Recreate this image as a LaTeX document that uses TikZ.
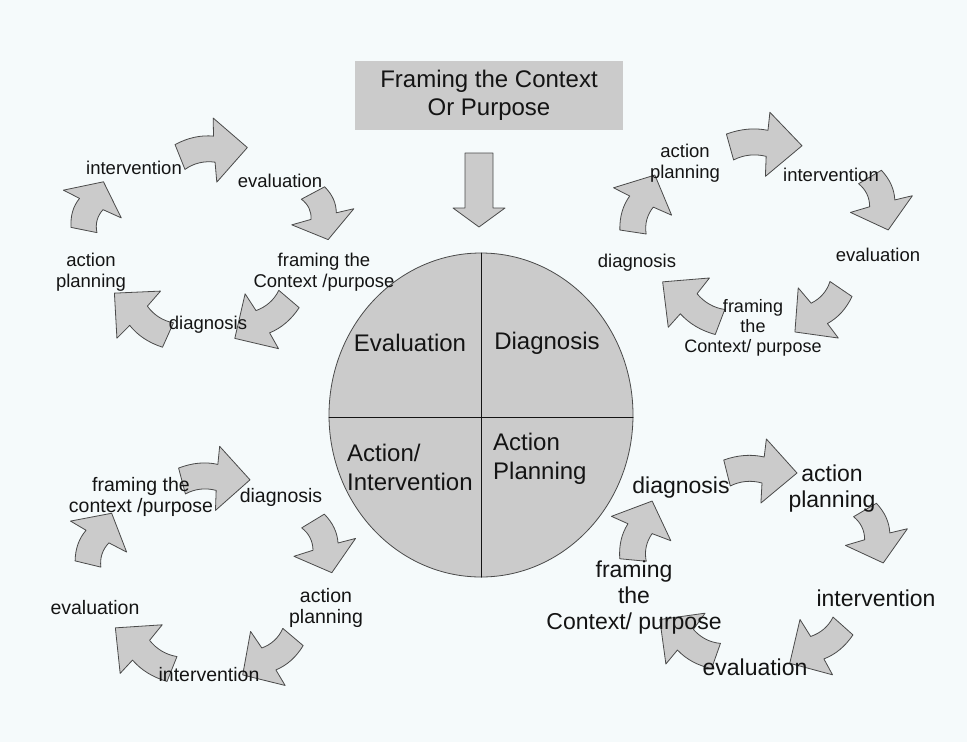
\documentclass[tikz,border=0pt]{standalone}
\usepackage{fontspec}
\setmainfont{Liberation Sans}
\definecolor{paper}{HTML}{F5FAFB}
\definecolor{shade}{HTML}{CBCBCB}
\definecolor{rim}{HTML}{4A4A4A}
\definecolor{ink}{HTML}{141414}
\begin{document}
\begin{tikzpicture}[line cap=round,line join=round,x=1pt,y=-1pt,
  cyc/.style={fill=shade,draw=rim,line width=0.8pt},
  lbl/.style={align=center,inner sep=0pt,text=ink},
  smalllbl/.style={lbl,font=\fontsize{18.5}{21}\selectfont},
  midlbl/.style={lbl,font=\fontsize{19.5}{21}\selectfont},
  biglbl/.style={lbl,font=\fontsize{23}{26}\selectfont},
  quad/.style={lbl,font=\fontsize{24}{29}\selectfont}]
\fill[paper] (0,0) rectangle (967,742);
% top box and arrow down
\node[fill=shade,minimum width=268pt,minimum height=69pt,inner sep=0pt,align=center,
  text=ink,font=\fontsize{24}{28}\selectfont] (purpose) at (489,95) {Framing the Context\\Or Purpose};
\filldraw[cyc] (465,153) -- (493,153) -- (493,208) -- (505,208) -- (479,227) -- (453,208) -- (465,208) -- cycle;
% the circle
\coordinate (hub) at (481,415);
\filldraw[fill=shade,draw=rim,line width=0.8pt] (hub) ellipse [x radius=152, y radius=162];
\draw[ink,line width=1pt] (hub) ++(0,-162) -- ++(0,324);
\draw[ink,line width=1pt] (hub) ++(-152,2) -- ++(304,0);
\node[quad] (qeval) at (410,343) {Evaluation};
\node[quad] (qdiag) at (547,343) {Diagnosis};
\node[quad,anchor=west,align=left] (qact) at (347,467) {Action/\\Intervention};
\node[quad,anchor=west,align=left] (qplan) at (493,459) {Action\\Planning};
% curved arrows of the four cycles
\foreach \tx/\ty/\ang/\len in {180/157/8/68, 313/193/-72/49, 289/299/-144/67, 168/335/142/68, 84/230/68/52,
  730/147/1/72, 870/177/-71/56, 841/289/-137/63, 720/322/145/70, 633/232/69/61,
  182/481/1/68, 313/521/-70/55, 293/637/-143/63, 172/669/144/70, 88/564/65/56,
  727/473/0/70, 865/510/-71/56, 843/626/-145/65, 716/656/147/67, 633/560/72/62}
{
\pgfmathsetmacro\sc{\len/64}
\filldraw[cyc,shift={(\tx,\ty)},rotate=\ang,xscale=\sc] (-3,-13) .. controls (10,-18) and (22,-19) .. (34,-16)
  -- (36,-34) -- (64,0) -- (31,30) -- (32,10) .. controls (22,7) and (12,8) .. (3,13) -- cycle;
}
% top left
\node[smalllbl] (tlint) at (134,168) {intervention};
\node[smalllbl] (tleval) at (280,181) {evaluation};
\node[smalllbl] (tlframe) at (324,272) {framing the\\Context /purpose};
\node[smalllbl] (tldiag) at (208,325) {diagnosis};
\node[smalllbl] (tlplan) at (91,272) {action\\planning};
% top right
\node[smalllbl] (trplan) at (685,163) {action\\planning};
\node[smalllbl] (trint) at (831,175) {intervention};
\node[smalllbl] (treval) at (878,255) {evaluation};
\node[smalllbl,font=\fontsize{18}{20}\selectfont] (trframe) at (753,328) {framing\\the\\Context/ purpose};
\node[smalllbl] (trdiag) at (637,263) {diagnosis};
% bottom left
\node[midlbl] (blframe) at (141,497) {framing the\\context /purpose};
\node[midlbl] (bldiag) at (281,497) {diagnosis};
\node[midlbl] (blplan) at (326,608) {action\\planning};
\node[midlbl] (blint) at (209,675) {intervention};
\node[midlbl] (bleval) at (95,608) {evaluation};
% bottom right
\node[biglbl] (brdiag) at (681,488) {diagnosis};
\node[biglbl] (brplan) at (832,489) {action\\planning};
\node[biglbl] (brint) at (876,598) {intervention};
\node[biglbl] (breval) at (755,667) {evaluation};
\node[biglbl] (brframe) at (634,598) {framing\\the\\Context/ purpose};
\end{tikzpicture}
\end{document}
